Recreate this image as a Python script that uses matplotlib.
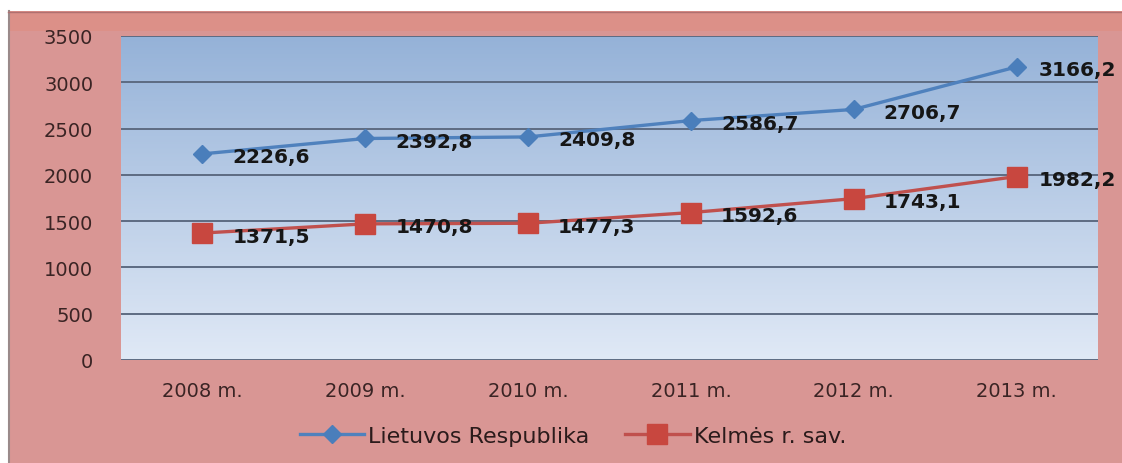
import numpy as np
import matplotlib
matplotlib.use("Agg")
import matplotlib.pyplot as plt
from matplotlib.patches import Rectangle
from matplotlib.lines import Line2D

# duomenys
metai = ["2008 m.", "2009 m.", "2010 m.", "2011 m.", "2012 m.", "2013 m."]
lietuva = [2226.6, 2392.8, 2409.8, 2586.7, 2706.7, 3166.2]
kelme = [1371.5, 1470.8, 1477.3, 1592.6, 1743.1, 1982.2]
y_ticks = [0, 500, 1000, 1500, 2000, 2500, 3000, 3500]

fon = "#d99694"
tekstas = "#2b1b1b"
melyna = "#4f81bd"
raudona = "#c0504d"

fig = plt.figure(figsize=(11.22, 4.64), dpi=100, facecolor="white")

# rozinis fonas su remeliu
fig.patches.append(Rectangle((8 / 1122, 0), 1 - 8 / 1122, 1 - 12 / 464,
                             transform=fig.transFigure, facecolor=fon,
                             edgecolor="none", zorder=-3))
fig.patches.append(Rectangle((8 / 1122, 1 - 32 / 464), 1 - 8 / 1122, 20 / 464,
                             transform=fig.transFigure, facecolor="#dc9088",
                             edgecolor="none", zorder=-2))
fig.lines.append(Line2D([8.5 / 1122, 8.5 / 1122], [0, 1 - 12 / 464],
                        transform=fig.transFigure, color="#9a8a8a", lw=1.5))
fig.lines.append(Line2D([8 / 1122, 1], [1 - 12.5 / 464, 1 - 12.5 / 464],
                        transform=fig.transFigure, color="#b07070", lw=1.0))

ax = fig.add_axes([121 / 1122, 1 - 361 / 464, (1098 - 121) / 1122, (361 - 37) / 464])
ax.set_facecolor("none")

# gradientas braizymo srityje
top = np.array([149, 178, 216]) / 255
bot = np.array([224, 233, 246]) / 255
t = np.linspace(0, 1, 256)[:, None]
grad = (top * (1 - t) + bot * t)[:, None, :]
ax.imshow(grad, extent=[0, 1, 0, 1], transform=ax.transAxes, aspect="auto", zorder=0)

x = np.arange(len(metai))
ax.set_xlim(-0.5, len(metai) - 0.5)
ax.set_ylim(0, 3500)
ax.set_yticks(y_ticks)
ax.set_xticks(x)
ax.set_xticklabels(metai)
ax.grid(axis="y", color="#5d6b82", lw=1.4, zorder=1)
ax.set_axisbelow(False)
for s in ax.spines.values():
    s.set_visible(False)
ax.tick_params(length=0, labelsize=14, labelcolor="#3a2424")
ax.tick_params(axis="y", pad=20)
ax.tick_params(axis="x", pad=15)

ax.plot(x, lietuva, color=melyna, lw=2.4, marker="D", ms=9, mfc="#4a7ebb",
        mec="#4a7ebb", zorder=3, label="Lietuvos Respublika")
ax.plot(x, kelme, color=raudona, lw=2.4, marker="s", ms=14, mfc="#c8473f",
        mec="#c8473f", zorder=3, label="Kelmės r. sav.")

# reiksmiu etiketes
for serija in (lietuva, kelme):
    for i, v in enumerate(serija):
        dx = 22 if i == len(serija) - 1 else 30
        ax.annotate(f"{v:.1f}".replace(".", ","), (x[i], v), xytext=(dx, -3),
                    textcoords="offset pixels", ha="left", va="center",
                    fontsize=14.5, fontweight="bold", color="#161616",
                    annotation_clip=False, zorder=4)

fig.legend(loc="center", bbox_to_anchor=(573 / 1122, 1 - 437 / 464), ncol=2,
           frameon=False, fontsize=16, handlelength=2.9, columnspacing=1.6,
           handletextpad=0.2, labelcolor=tekstas)

fig.savefig("out.png", dpi=100, facecolor=fig.get_facecolor())
